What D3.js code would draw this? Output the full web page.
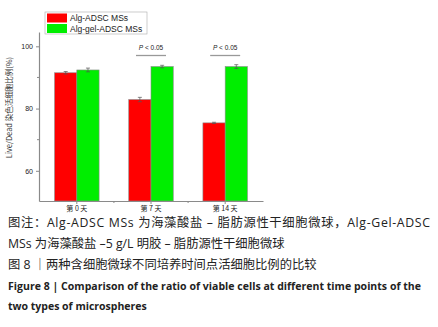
<!DOCTYPE html>
<html>
<head>
<meta charset="utf-8">
<script src="https://cdn.jsdelivr.net/npm/d3@7"></script>
<style>
  body { margin: 0; background: #fff; }
  svg { display: block; }
</style>
</head>
<body>
<div id="chart"></div>
<script>
const days = ["第 0 天", "第 7 天", "第 14 天"];
const seriesNames = ["Alg-ADSC MSs", "Alg-gel-ADSC MSs"];
const algValues = [91.5, 82.9, 75.4];
const algErrors = [0.4, 0.7, 0.2];
const gelValues = [92.4, 93.5, 93.5];
const gelErrors = [0.6, 0.4, 0.6];
const sigDays = ["第 7 天", "第 14 天"];
const yTicks = [60, 80, 100];
const colors = ["#ff0000", "#00ee00"];

const captionLines = [
  "图注：Alg-ADSC MSs 为海藻酸盐 – 脂肪源性干细胞微球，Alg-Gel-ADSC",
  "MSs 为海藻酸盐 –5 g/L 明胶 – 脂肪源性干细胞微球",
  "图 8 ｜两种含细胞微球不同培养时间点活细胞比例的比较",
  "Figure 8  |  Comparison of the ratio of viable cells at different time points of the",
  "two types of microspheres"
];

const W = 438, H = 327;
const svg = d3.select("#chart").append("svg")
    .attr("width", W)
    .attr("height", H);

const x0 = 39, x1 = 263, yTop = 32, yBot = 201;

const x = d3.scaleBand()
    .domain(days)
    .range([x0, x1])
    .paddingInner(0.4)
    .paddingOuter(0.21);

const xs = d3.scaleBand()
    .domain([0, 1])
    .range([0, x.bandwidth()]);

const y = d3.scaleLinear()
    .domain([50.3, 104.6])
    .range([yBot, yTop]);

const data = days.map((d, i) => ({
    day: d,
    vals: [
        { s: 0, v: algValues[i], e: algErrors[i] },
        { s: 1, v: gelValues[i], e: gelErrors[i] }
    ]
}));

// bars
const groups = svg.selectAll(".grp")
    .data(data)
    .enter().append("g")
    .attr("class", "grp")
    .attr("transform", d => `translate(${x(d.day)},0)`);

groups.selectAll("rect")
    .data(d => d.vals)
    .enter().append("rect")
    .attr("x", d => xs(d.s))
    .attr("y", d => y(d.v))
    .attr("width", xs.bandwidth())
    .attr("height", d => yBot - y(d.v))
    .attr("fill", d => colors[d.s])
    .attr("stroke", "#8a8a8a")
    .attr("stroke-width", 0.6);

// error bars
const err = groups.selectAll(".err")
    .data(d => d.vals)
    .enter().append("g")
    .attr("class", "err")
    .attr("stroke", "#555")
    .attr("stroke-width", 0.7);
err.append("line")
    .attr("x1", d => xs(d.s) + xs.bandwidth() / 2)
    .attr("x2", d => xs(d.s) + xs.bandwidth() / 2)
    .attr("y1", d => y(d.v + d.e))
    .attr("y2", d => y(d.v - d.e));
err.selectAll(".cap")
    .data(d => [d.v + d.e, d.v - d.e].map(v => ({ v: v, s: d.s })))
    .enter().append("line")
    .attr("x1", d => xs(d.s) + xs.bandwidth() / 2 - 2)
    .attr("x2", d => xs(d.s) + xs.bandwidth() / 2 + 2)
    .attr("y1", d => y(d.v))
    .attr("y2", d => y(d.v));

// y axis
const yAxis = d3.axisLeft(y)
    .tickValues(yTicks)
    .tickSize(3)
    .tickSizeOuter(0)
    .tickFormat(d3.format("d"));
const gy = svg.append("g")
    .attr("transform", `translate(${x0},0)`)
    .call(yAxis);
gy.select(".domain").attr("stroke", "#8a8a8a").attr("stroke-width", 1.2);
gy.selectAll(".tick line").attr("stroke", "#8a8a8a");
gy.selectAll(".tick text")
    .attr("font-family", "Arial, 'Liberation Sans', sans-serif")
    .attr("font-size", 7)
    .attr("fill", "#222");
gy.selectAll(".minor")
    .data([70, 90])
    .enter().append("line")
    .attr("x1", -2).attr("x2", 0)
    .attr("y1", d => y(d)).attr("y2", d => y(d))
    .attr("stroke", "#8a8a8a");

// x axis
const xAxis = d3.axisBottom(x)
    .tickSize(3)
    .tickSizeOuter(0)
    .tickPadding(2);
const gx = svg.append("g")
    .attr("transform", `translate(0,${yBot})`)
    .call(xAxis);
gx.select(".domain").attr("stroke", "#8a8a8a").attr("stroke-width", 1.2);
gx.selectAll(".tick line").attr("stroke", "#8a8a8a");
gx.selectAll(".tick text")
    .attr("font-family", "'Noto Sans CJK SC', sans-serif")
    .attr("font-size", 7)
    .attr("fill", "#222");
gx.selectAll(".minor")
    .data(days.slice(1))
    .enter().append("line")
    .attr("x1", d => x(d) - x.step() * 0.4 / 2)
    .attr("x2", d => x(d) - x.step() * 0.4 / 2)
    .attr("y1", 0).attr("y2", 2)
    .attr("stroke", "#8a8a8a");

// y label
svg.append("text")
    .attr("transform", `translate(12,${(53 + 162) / 2}) rotate(-90)`)
    .attr("text-anchor", "middle")
    .attr("font-family", "'Noto Sans CJK SC', sans-serif")
    .attr("font-size", 7.5)
    .attr("fill", "#333")
    .text("Live/Dead 染色活细胞比例(%)");

// significance marks
const sig = svg.selectAll(".sig")
    .data(sigDays)
    .enter().append("g")
    .attr("class", "sig")
    .attr("transform", d => `translate(${x(d) + x.bandwidth() / 2},0)`);
sig.append("text")
    .attr("y", 50)
    .attr("text-anchor", "middle")
    .attr("font-family", "Arial, 'Liberation Sans', sans-serif")
    .attr("font-size", 6.5)
    .attr("fill", "#222")
    .html('<tspan font-style="italic">P</tspan> &lt; 0.05');
sig.append("line")
    .attr("x1", -15).attr("x2", 15)
    .attr("y1", 55.5).attr("y2", 55.5)
    .attr("stroke", "#999")
    .attr("stroke-width", 1.3);

// legend
const legend = svg.append("g").attr("transform", "translate(45,12)");
legend.append("rect")
    .attr("width", 102).attr("height", 22)
    .attr("fill", "#fff")
    .attr("stroke", "#aaa")
    .attr("stroke-width", 0.6);
const li = legend.selectAll(".li")
    .data(seriesNames)
    .enter().append("g")
    .attr("transform", (d, i) => `translate(2,${1.5 + i * 10.5})`);
li.append("rect")
    .attr("width", 20).attr("height", 9)
    .attr("fill", (d, i) => colors[i]);
li.append("text")
    .attr("x", 23).attr("y", 7.5)
    .attr("font-family", "Arial, 'Liberation Sans', sans-serif")
    .attr("font-size", 8.5)
    .attr("fill", "#222")
    .text(d => d);

// caption (lines 0 and 3 are justified in the source layout)
const capY = [227, 248, 269, 290, 310];
const justified = { 0: 422, 3: 413 };
svg.selectAll(".cap-line")
    .data(captionLines)
    .enter().append("text")
    .attr("class", "cap-line")
    .attr("x", 8)
    .attr("y", (d, i) => capY[i])
    .attr("font-family", (d, i) => i >= 3 ? "'Open Sans', 'Noto Sans', sans-serif" : "'Open Sans', 'Noto Sans CJK SC', sans-serif")
    .attr("font-weight", (d, i) => i >= 3 ? "bold" : "normal")
    .attr("font-size", (d, i) => i >= 3 ? 10.5 : 12.3)
    .attr("fill", "#222")
    .each(function(d, i) {
        if (justified[i]) d3.select(this).attr("textLength", justified[i]).attr("lengthAdjust", "spacing");
    })
    .text(d => d);
</script>
</body>
</html>
